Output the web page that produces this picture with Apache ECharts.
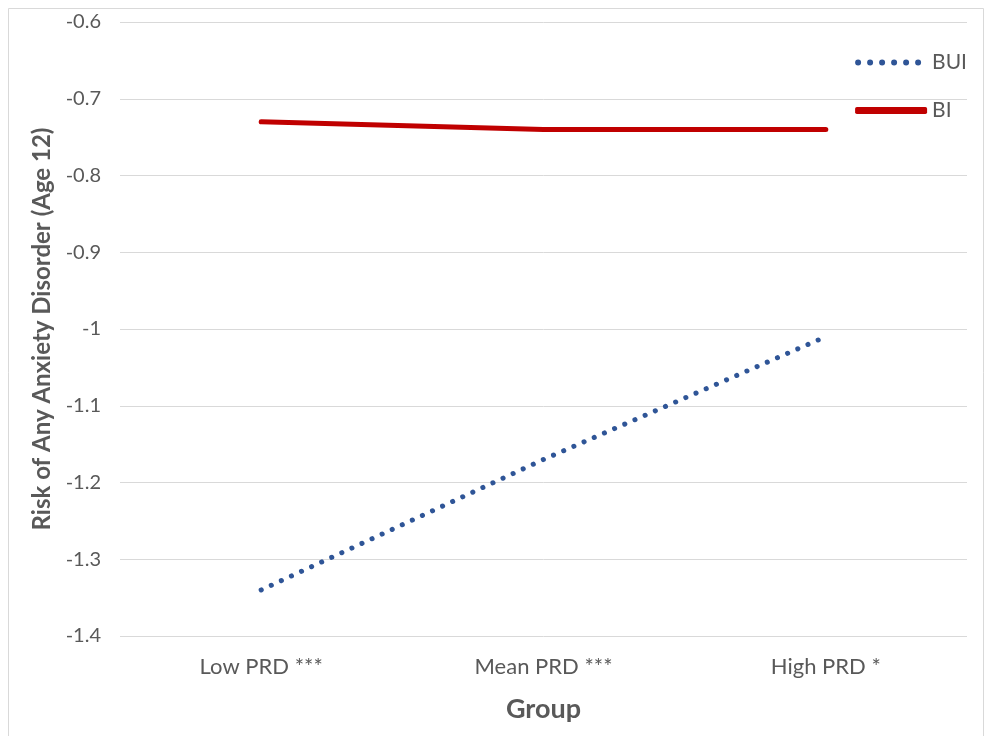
<!DOCTYPE html>
<html><head><meta charset="utf-8">
<script src="https://cdn.jsdelivr.net/npm/echarts@6/dist/echarts.min.js"></script>
<style>html,body{margin:0;padding:0;background:#fff}#c{width:987px;height:736px}</style>
</head><body><div id="c"></div>
<script>
const categories = ['Low PRD ***', 'Mean PRD ***', 'High PRD *'];
const buiValues = [-1.34, -1.17, -1.01];
const biValues = [-0.73, -0.74, -0.74];
const seriesNames = ['BUI', 'BI'];
const yTitle = 'Risk of Any Anxiety Disorder (Age 12)';
const xTitle = 'Group';

const font = 'Lato';
const dotsPath = 'path://' + [3, 15, 27, 39, 51, 63].map(cx =>
  `M${cx - 3},3.5 A3,3 0 1,1 ${cx + 3},3.5 A3,3 0 1,1 ${cx - 3},3.5 Z`).join(' ') + ' M72,0 L72,0 M72,7 L72,7';
const chart = echarts.init(document.getElementById('c'));
chart.setOption({
  animation: false,
  backgroundColor: '#fff',
  graphic: [{type:'rect', shape:{x:8.5,y:8.5,width:975,height:740}, style:{fill:'none', stroke:'#d9d9d9', lineWidth:1}}],
  grid: {left: 120, right: 20, top: 22, bottom: 100},
  legend: {
    orient: 'vertical', right: 15, top: 47, itemWidth: 72, itemHeight: 7, itemGap: 27,
    textStyle: {fontFamily: font, fontSize: 21, color: '#595959'},
    data: [
      {name: seriesNames[0], icon: dotsPath, itemStyle: {color: '#2f5597'}},
      {name: seriesNames[1], icon: 'roundRect', itemStyle: {color: '#c00000'}}
    ]
  },
  xAxis: {
    type: 'category', data: categories, boundaryGap: true,
    axisLine: {show: false}, axisTick: {show: false},
    axisLabel: {fontFamily: font, fontSize: 22, color: '#595959', margin: 20},
    name: xTitle, nameLocation: 'middle', nameGap: 60,
    nameTextStyle: {fontFamily: font, fontSize: 27, fontWeight: 'bold', color: '#595959'}
  },
  yAxis: {
    type: 'value', min: -1.4, max: -0.6, interval: 0.1,
    axisLine: {show: false}, axisTick: {show: false},
    splitLine: {lineStyle: {color: '#d9d9d9', width: 1}},
    axisLabel: {fontFamily: font, fontSize: 20, color: '#595959', margin: 19,
      formatter: v => String(Math.round(v*10)/10)},
    name: yTitle, nameLocation: 'middle', nameGap: 66,
    nameTextStyle: {fontFamily: font, fontSize: 24, fontWeight: 'bold', color: '#595959'}
  },
  series: [
    {name: 'BUI', type: 'line', data: buiValues, symbol: 'none', color: '#2f5597',
     lineStyle: {color: '#2f5597', width: 5, type: [0.1, 11], cap: 'round'}},
    {name: 'BI', type: 'line', data: biValues, symbol: 'none', color: '#c00000',
     lineStyle: {color: '#c00000', width: 5, cap: 'round'}}
  ]
});
</script></body></html>
